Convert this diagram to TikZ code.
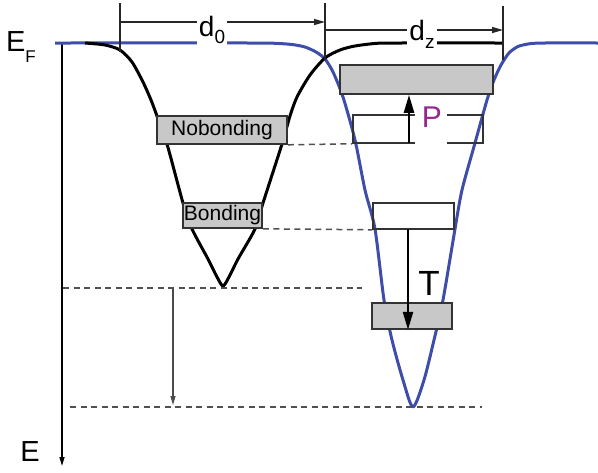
\documentclass[tikz,border=0pt]{standalone}
\usepackage{fontspec}
\setmainfont{Liberation Sans}
\usetikzlibrary{arrows.meta,calc}
\definecolor{wellblue}{RGB}{62,78,168}
\definecolor{pmag}{RGB}{150,40,140}
\definecolor{boxgray}{RGB}{200,200,200}
\definecolor{dashgray}{RGB}{80,80,80}
\tikzset{
  graybox/.style={draw=black!80, fill=boxgray, line width=1.6pt, inner sep=0pt},
  whitebox/.style={draw=black!80, line width=1.6pt, inner sep=0pt},
  levelline/.style={draw=dashgray, line width=1.5pt, dash pattern=on 6pt off 4.5pt},
  blackwell/.style={draw=black, line width=3pt, line join=round},
  bluewell/.style={draw=wellblue, line width=3pt, line join=round},
  dimline/.style={draw=black!85, line width=1.3pt},
  bigarrow/.style={draw=black, line width=2.3pt, -{Triangle[length=18pt,width=10pt]}},
  smallarrow/.style={draw=black!70, line width=1.1pt, -{Triangle[length=9pt,width=5pt]}},
  biglabel/.style={inner sep=0pt, font=\fontsize{29}{29}\selectfont},
  boxlabel/.style={font=\fontsize{21}{21}\selectfont}
}
\begin{document}
\begin{tikzpicture}[x=1pt,y=-1pt]
\useasboundingbox (0,0) rectangle (598,472);
% energy axis
\coordinate (ax0) at (62,43);
\coordinate (ax1) at (62,466);
\draw[black, line width=1.5pt, -{Triangle[length=9pt,width=5pt]}] (ax0) -- (ax1);
% blue well
\draw[bluewell] plot[smooth, tension=0.45] coordinates {(55,43) (250,43) (275,43.3) (292,44.5) (305,47) (316,52) (325,59) (333,72) (343,97) (355,140) (365,190) (375,229) (384,300) (392,340) (403,380) (413,407) (424,380) (434,340) (443,300) (455,229) (462,190) (475,143) (487,100) (494,80) (501,65) (509,53) (518,46.5) (530,43.7) (545,43) (598,43)};
% black well
\draw[blackwell] plot[smooth, tension=0.45] coordinates {(85,43) (105,45) (120,50) (132,62) (143,82) (151,100) (157,116) (167,144) (183,203) (192,229) (208,259) (217,277) (223,286) (229,277) (238,259) (255,229) (263,203) (282,144) (290,116) (297,97) (310,75) (325,58) (340,50) (355,46) (377,43.3) (400,43) (503,43)};
% levels, left well
\node[graybox, minimum width=130pt, minimum height=28pt, boxlabel] (nb) at (222,130) {Nobonding};
\node[graybox, minimum width=79pt, minimum height=25pt, boxlabel] (bd) at (222.5,215.5) {Bonding};
% levels, right well
\node[graybox, minimum width=153pt, minimum height=29pt] (g1) at (416.5,79.5) {};
\node[whitebox, minimum width=130pt, minimum height=28pt] (wp) at (418,129) {};
\node[whitebox, minimum width=81pt, minimum height=26pt] (tw) at (413.5,216) {};
\node[graybox, minimum width=80pt, minimum height=26pt] (tg) at (412,316) {};
% dashed level lines
\draw[levelline] (nb.south east) -- (wp.south west);
\draw[levelline] (bd.south east) -- (tw.south west);
\coordinate (l3a) at (63,288);
\coordinate (l3b) at (362,288);
\draw[levelline] (l3a) -- (l3b);
\coordinate (l4a) at (70,407);
\coordinate (l4b) at (482,407);
\draw[levelline] (l4a) -- (l4b);
% shift arrow
\coordinate (sa0) at (173,288);
\coordinate (sa1) at (173,405);
\draw[smallarrow] (sa0) -- (sa1);
% P arrow and label
\fill[white] (415,106) rectangle (447,147);
\coordinate (pa) at (409,143);
\draw[bigarrow] (pa) -- (pa |- g1.south);
\node[biglabel, text=pmag, font=\fontsize{30}{30}\selectfont] (P) at (432,117) {P};
% T arrow and label
\coordinate (ta) at (408,229);
\draw[bigarrow] (ta) -- (ta |- tg.south);
\node[biglabel, font=\fontsize{35}{35}\selectfont] (T) at (429,283) {T};
% dimensions
\coordinate (d0a) at (120,3);
\coordinate (d0b) at (120,52);
\coordinate (dzm) at (325,3);
\coordinate (dzn) at (325,60);
\coordinate (dzr) at (503,6);
\coordinate (dzs) at (503,60);
\draw[dimline] (d0a) -- (d0b);
\draw[dimline] (dzm) -- (dzn);
\draw[dimline] (dzr) -- (dzs);
\draw[dimline, -{Triangle[length=11pt,width=6pt]}] (120,22) -- (dzm |- 0,22);
\draw[dimline, -{Triangle[length=11pt,width=6pt]}] (dzm |- 0,30) -- (dzr |- 0,30);
\node[fill=white, inner xsep=2pt, minimum height=30pt, font=\fontsize{28}{28}\selectfont] (d0) at (212,30) {d\raisebox{-0.28em}{\fontsize{19}{19}\selectfont 0}};
\node[fill=white, inner xsep=2pt, minimum height=28pt, font=\fontsize{28}{28}\selectfont] (dz) at (422,34) {d\raisebox{-0.28em}{\fontsize{19}{19}\selectfont z}};
% axis labels
\node[biglabel] (EF) at (21,47) {E\raisebox{-0.35em}{\fontsize{17}{17}\selectfont F}};
\node[biglabel] (E) at (30,452) {E};
\end{tikzpicture}
\end{document}
